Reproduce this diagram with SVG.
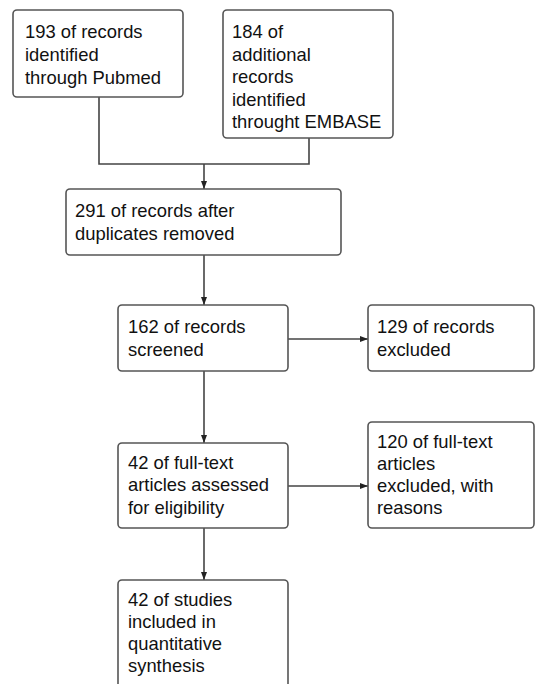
<svg xmlns="http://www.w3.org/2000/svg" width="535" height="684" viewBox="0 0 535 684">
<defs>
<style>
.box{fill:#fff;stroke:#555;stroke-width:1.6}
.t{font-family:"Liberation Sans",Arial,sans-serif;font-size:18.4px;fill:#111}
.c{fill:none;stroke:#444;stroke-width:1.6}
</style>
<marker id="ah" viewBox="0 0 8 8" refX="8" refY="4" markerWidth="8" markerHeight="8" markerUnits="userSpaceOnUse" orient="auto">
<path d="M0,1 L8,4 L0,7 Z" fill="#222"/>
</marker>
</defs>
<rect width="535" height="684" fill="#fff"/>
<g id="connectors">
<path class="c" d="M99,97 V164 H309 V138"/>
<path class="c" d="M204,164 V189" marker-end="url(#ah)"/>
<path class="c" d="M204,255 V305" marker-end="url(#ah)"/>
<path class="c" d="M288,339 H368" marker-end="url(#ah)"/>
<path class="c" d="M204,371 V443" marker-end="url(#ah)"/>
<path class="c" d="M288,486 H368" marker-end="url(#ah)"/>
<path class="c" d="M204,528 V580" marker-end="url(#ah)"/>
</g>
<g id="n1">
<rect class="box" x="13" y="10" width="170" height="87" rx="4"/>
<text class="t" x="25" y="38">193 of records</text>
<text class="t" x="25" y="61">identified</text>
<text class="t" x="25" y="84">through Pubmed</text>
</g>
<g id="n2">
<rect class="box" x="223" y="10" width="170" height="128" rx="4"/>
<text class="t" x="232" y="38">184 of</text>
<text class="t" x="232" y="61">additional</text>
<text class="t" x="232" y="83">records</text>
<text class="t" x="232" y="106">identified</text>
<text class="t" x="232" y="128">throught EMBASE</text>
</g>
<g id="n3">
<rect class="box" x="66" y="189" width="275" height="66" rx="4"/>
<text class="t" x="75" y="217">291 of records after</text>
<text class="t" x="75" y="240">duplicates removed</text>
</g>
<g id="n4">
<rect class="box" x="118" y="305" width="170" height="66" rx="4"/>
<text class="t" x="128" y="333">162 of records</text>
<text class="t" x="128" y="356">screened</text>
</g>
<g id="n5">
<rect class="box" x="368" y="305" width="166" height="66" rx="4"/>
<text class="t" x="377" y="333">129 of records</text>
<text class="t" x="377" y="356">excluded</text>
</g>
<g id="n6">
<rect class="box" x="118" y="443" width="170" height="85" rx="4"/>
<text class="t" x="128" y="469">42 of full-text</text>
<text class="t" x="128" y="491">articles assessed</text>
<text class="t" x="128" y="514">for eligibility</text>
</g>
<g id="n7">
<rect class="box" x="368" y="422" width="166" height="106" rx="4"/>
<text class="t" x="377" y="448">120 of full-text</text>
<text class="t" x="377" y="470">articles</text>
<text class="t" x="377" y="492">excluded, with</text>
<text class="t" x="377" y="514">reasons</text>
</g>
<g id="n8">
<rect class="box" x="118" y="580" width="170" height="130" rx="4"/>
<text class="t" x="128" y="606">42 of studies</text>
<text class="t" x="128" y="628">included in</text>
<text class="t" x="128" y="650">quantitative</text>
<text class="t" x="128" y="672">synthesis</text>
</g>
</svg>
